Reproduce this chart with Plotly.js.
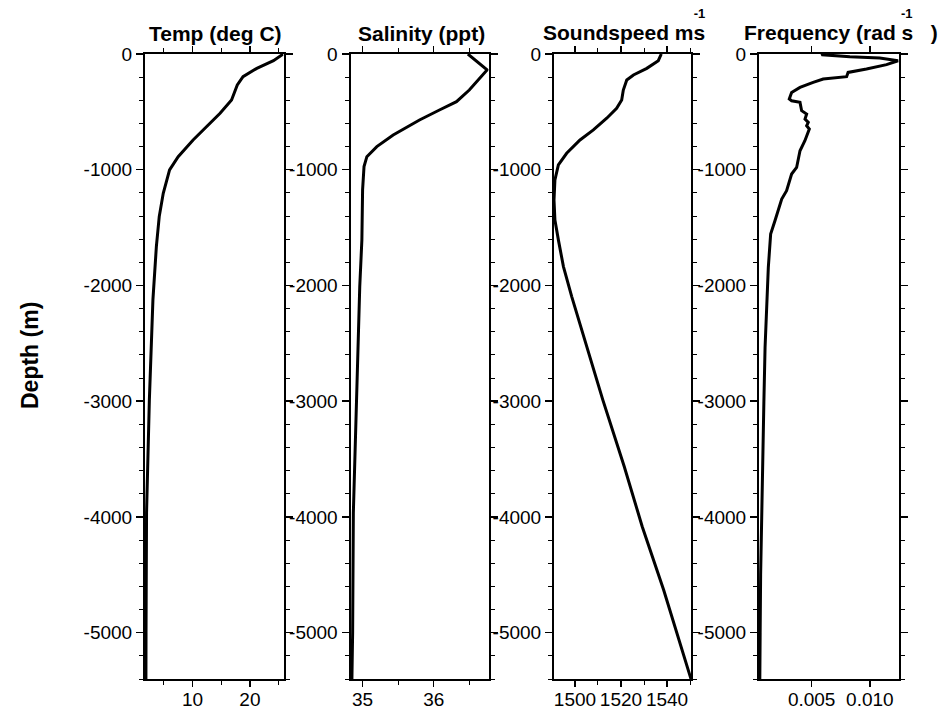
<!DOCTYPE html>
<html>
<head>
<meta charset="utf-8">
<script src="https://cdn.plot.ly/plotly-3.0.1.min.js"></script>
<style>
  html, body { margin: 0; padding: 0; background: #fff; }
  #chart { width: 944px; height: 709px; }
</style>
</head>
<body>
<div id="chart"></div>
<script>
// Hydrographic profiles: depth (m, negative downward) against each quantity.
const tempDepth  = [0, -58, -124, -196, -268, -397, -512, -628, -743, -887, -1002, -1203, -1405, -1664, -1894, -2124, -2988, -3964, -5000, -5400];
const tempValues = [25.8, 24.1, 21.2, 18.8, 17.8, 16.8, 14.8, 12.4, 10.1, 7.5, 6.0, 4.9, 4.2, 3.7, 3.4, 3.1, 2.48, 1.99, 1.9, 1.88];

const salDepth  = [0, -138, -311, -412, -484, -570, -700, -800, -887, -973, -1174, -1606, -2010, -2988, -3964, -5000, -5400];
const salValues = [36.48, 36.75, 36.5, 36.32, 36.08, 35.8, 35.43, 35.2, 35.06, 35.02, 35.0, 34.99, 34.96, 34.91, 34.87, 34.86, 34.85];

const speedDepth  = [0, -58, -124, -181, -225, -311, -397, -469, -555, -656, -743, -858, -959, -1088, -1261, -1434, -1606, -1837, -2096, -2383, -2988, -3564, -4082, -4629, -5400];
const speedValues = [1537.5, 1536.2, 1531.2, 1525.4, 1522.5, 1521.0, 1520.3, 1518.1, 1513.8, 1508.0, 1502.2, 1496.4, 1492.8, 1491.3, 1490.9, 1491.3, 1492.8, 1495.0, 1498.6, 1502.9, 1512.1, 1521.4, 1529.2, 1538.5, 1550.4];

const freqDepth  = [0, -6, -23, -35, -58, -92, -130, -159, -196, -216, -245, -289, -332, -389, -404, -418, -490, -519, -562, -591, -620, -648, -749, -836, -980, -1037, -1181, -1253, -1441, -1556, -1844, -2132, -2536, -3000, -3500, -4000, -4500, -5000, -5400];
const freqValues = [0.0059, 0.00585, 0.00828, 0.01085, 0.01242, 0.01143, 0.00971, 0.00813, 0.0080, 0.00599, 0.00513, 0.0040, 0.00328, 0.00308, 0.00328, 0.0040, 0.00414, 0.00457, 0.00443, 0.00471, 0.00457, 0.0048, 0.00442, 0.0040, 0.00371, 0.00328, 0.00285, 0.00243, 0.00185, 0.00148, 0.00128, 0.00114, 0.0010, 0.0009, 0.0008, 0.0007, 0.00062, 0.00058, 0.00055];

// Tick labels
const depthTickVals = [0, -1000, -2000, -3000, -4000, -5000];
const depthTickText = ['0', '-1000', '-2000', '-3000', '-4000', '-5000'];
const tempTickVals  = [10, 20];
const tempTickText  = ['10', '20'];
const salTickVals   = [35, 36];
const salTickText   = ['35', '36'];
const speedTickVals = [1500, 1520, 1540];
const speedTickText = ['1500', '1520', '1540'];
const freqTickVals  = [0.005, 0.010];
const freqTickText  = ['0.005', '0.010'];

const NBSP = '\u00a0';
const panelTitles = ['Temp (deg C)', 'Salinity (ppt)', 'Soundspeed ms', 'Frequency (rad s' + NBSP.repeat(3) + ')'];
const unitExponent = '-1';

const W = 944, H = 709;
const FONT = '"Liberation Sans", Arial, Helvetica, sans-serif';
const tickFont = { family: FONT, size: 19, color: '#000' };

function line(x, y, xa, ya) {
  return {
    x: x, y: y, xaxis: xa, yaxis: ya, type: 'scatter', mode: 'lines',
    line: { color: '#000', width: 3 }, hoverinfo: 'skip', showlegend: false
  };
}

const data = [
  line(tempValues, tempDepth, 'x', 'y'),
  line(salValues, salDepth, 'x2', 'y2'),
  line(speedValues, speedDepth, 'x3', 'y3'),
  line(freqValues, freqDepth, 'x4', 'y4')
];

const yDom = [1 - 679 / H, 1 - 54 / H];

function xAxis(left, right, range, vals, text, minorStep, anchor) {
  const ax = {
    domain: [left / W, right / W], range: range, anchor: anchor,
    showline: true, linewidth: 2, linecolor: '#000', mirror: 'allticks',
    ticks: 'outside', ticklen: 6, tickwidth: 1.5, tickcolor: '#000',
    tickmode: 'array', tickvals: vals, ticktext: text, ticklabelstandoff: -4,
    showgrid: false, zeroline: false, tickfont: tickFont, fixedrange: true
  };
  if (minorStep) {
    ax.minor = { tickmode: 'linear', dtick: minorStep, ticks: 'outside', ticklen: 4, tickwidth: 1, tickcolor: '#000', showgrid: false };
  }
  return ax;
}

function yAxis(anchor) {
  return {
    domain: yDom, range: [-5400, 0], anchor: anchor,
    showline: true, linewidth: 2, linecolor: '#000', mirror: 'allticks',
    ticks: 'outside', ticklen: 7, tickwidth: 1.5, tickcolor: '#000',
    tickmode: 'array', tickvals: depthTickVals, ticktext: depthTickText,
    minor: { tickmode: 'linear', tick0: 0, dtick: 200, ticks: 'outside', ticklen: 4, tickwidth: 1, tickcolor: '#000', showgrid: false },
    showgrid: false, zeroline: false, tickfont: tickFont, fixedrange: true
  };
}

const titleFont = { family: FONT, size: 21, color: '#000', weight: 'bold' };
// The block font sets the line pitch between the exponent line and the title line.
const blockFont = { family: FONT, size: 17, color: '#000', weight: 'bold' };

function note(text, xpx, ypx, font, extra) {
  return Object.assign({
    text: text, xref: 'paper', yref: 'paper', x: xpx / W, y: 1 - ypx / H,
    xanchor: 'center', yanchor: 'middle', showarrow: false, font: font
  }, extra || {});
}

// Title with the unit exponent set on a small line above its right end.
function unitTitle(exponentLine, title, rightPx) {
  return note('<span style="font-size:13px">' + exponentLine + '</span><br>' +
              '<span style="font-size:21px">' + title + '</span>',
    rightPx, 46, blockFont, { xanchor: 'right', yanchor: 'bottom', align: 'right' });
}

const layout = {
  width: W, height: H,
  margin: { l: 0, r: 0, t: 0, b: 0 },
  paper_bgcolor: '#fff', plot_bgcolor: '#fff',
  showlegend: false,
  xaxis:  xAxis(145, 283.5, [1.72, 25.85], tempTickVals, tempTickText, 5, 'y'),
  xaxis2: xAxis(350.5, 488.5, [34.83, 36.77], salTickVals, salTickText, 0.5, 'y2'),
  xaxis3: xAxis(554, 691, [1490.9, 1550.4], speedTickVals, speedTickText, 10, 'y3'),
  xaxis4: xAxis(759, 899, [0.00048, 0.0125], freqTickVals, freqTickText, null, 'y4'),
  yaxis:  yAxis('x'),
  yaxis2: yAxis('x2'),
  yaxis3: yAxis('x3'),
  yaxis4: yAxis('x4'),
  annotations: [
    note(panelTitles[0], 215, 33, titleFont),
    note(panelTitles[1], 421, 33, titleFont),
    unitTitle(unitExponent, panelTitles[2], 707),
    unitTitle(unitExponent + NBSP.repeat(7), panelTitles[3], 940),
    note('Depth (m)', 30, 356, { family: FONT, size: 23, color: '#000', weight: 'bold' }, { textangle: -90 })
  ]
};

Plotly.newPlot('chart', data, layout, { staticPlot: true, displayModeBar: false });
</script>
</body>
</html>
